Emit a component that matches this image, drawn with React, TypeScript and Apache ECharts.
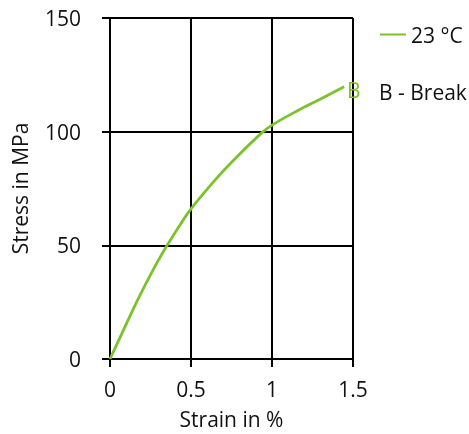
import React, { useEffect, useRef } from "react";
import * as echarts from "echarts";

const strain = [0, 0.062, 0.124, 0.186, 0.248, 0.3, 0.351, 0.434, 0.5, 0.64, 0.764, 0.94, 1.01, 1.157, 1.3, 1.445];
const stress = [0, 9.5, 19, 28.2, 36.8, 43.6, 49.8, 59.2, 66, 78, 87.5, 99.7, 103.3, 109.2, 114.4, 119.8];
const xTicks = [0, 0.5, 1, 1.5];
const yTicks = [0, 50, 100, 150];
const seriesName = "23 °C";
const breakLabel = "B";
const noteText = "B - Break";

const FONT = "'Open Sans', 'Noto Sans', sans-serif";
const GREEN = "#7cc22a";
const FS = 21;

export default function App() {
  const ref = useRef<HTMLDivElement>(null);
  useEffect(() => {
    if (!ref.current) return;
    const chart = echarts.init(ref.current, undefined, { renderer: "svg" });
    const data = strain.map((s, i) => [s, stress[i]]);
    chart.setOption({
      animation: false,
      grid: { left: 110, right: 116, top: 18, bottom: 72, containLabel: false },
      xAxis: {
        type: "value",
        min: xTicks[0],
        max: xTicks[xTicks.length - 1],
        interval: 0.5,
        name: "Strain in %",
        nameLocation: "middle",
        nameGap: 49,
        nameTextStyle: { color: "#111", fontSize: FS, fontFamily: FONT },
        axisLine: { show: true, lineStyle: { color: "#000", width: 2 } },
        axisTick: { show: true, length: 8, lineStyle: { color: "#000", width: 2 } },
        axisLabel: { color: "#111", fontSize: FS, fontFamily: FONT, margin: 19 },
        splitLine: { show: true, lineStyle: { color: "#000", width: 2 } },
      },
      yAxis: {
        type: "value",
        min: yTicks[0],
        max: yTicks[yTicks.length - 1],
        interval: 50,
        name: "Stress in MPa",
        nameLocation: "middle",
        nameGap: 80,
        nameTextStyle: { color: "#111", fontSize: FS, fontFamily: FONT },
        axisLine: { show: true, lineStyle: { color: "#000", width: 2 } },
        axisTick: { show: true, length: 8, lineStyle: { color: "#000", width: 2 } },
        axisLabel: { color: "#111", fontSize: FS, fontFamily: FONT, margin: 29 },
        splitLine: { show: true, lineStyle: { color: "#000", width: 2 } },
      },
      legend: {
        show: true,
        left: 380,
        top: 24,
        padding: 0,
        itemWidth: 26,
        itemHeight: 20,
        itemGap: 8,
        textStyle: { color: "#111", fontSize: FS, fontFamily: FONT },
        data: [{ name: seriesName, icon: "path://M0,9 L26,9 L26,11 L0,11 Z" }],
      },
      graphic: [
        {
          type: "text",
          left: 379,
          top: 81,
          style: { text: noteText, fill: "#111", fontSize: FS, fontFamily: FONT },
        },
      ],
      series: [
        {
          name: seriesName,
          type: "line",
          data,
          smooth: 0.4,
          showSymbol: false,
          symbol: "none",
          lineStyle: { color: GREEN, width: 2.8 },
          itemStyle: { color: GREEN },
          endLabel: {
            show: true,
            formatter: breakLabel,
            color: GREEN,
            fontSize: FS,
            fontFamily: FONT,
            distance: 3,
            offset: [0, 3],
          },
        },
      ],
    });
    return () => chart.dispose();
  }, []);
  return (
    <div
      ref={ref}
      style={{ position: "fixed", left: 0, top: 0, width: 469, height: 434 }}
    />
  );
}
